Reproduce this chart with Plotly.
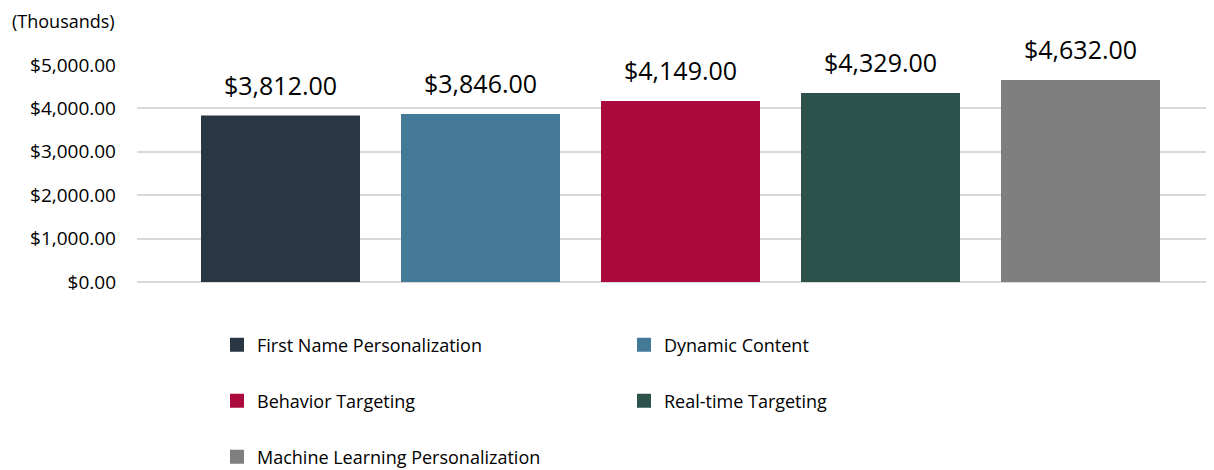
import plotly.graph_objects as go

categories = ["First Name Personalization", "Dynamic Content", "Behavior Targeting",
              "Real-time Targeting", "Machine Learning Personalization"]
values = [3812, 3846, 4149, 4329, 4632]
colors = ["#293643", "#447998", "#AA0A3C", "#2C524B", "#7F7F7F"]
legend_ids = ["legend", "legend", "legend2", "legend2", "legend3"]
y_ticks = [0, 1000, 2000, 3000, 4000, 5000]

# page has an 8px body margin; size the figure so the plot area lands where wanted
OFF = 8
PAGE_W, PAGE_H = 1214, 470
W, H = PAGE_W - OFF, PAGE_H - OFF
PL, PT, PB = 137, 65, 282  # plot area in page pixels (left, top, bottom)
L, T = PL - OFF, PT - OFF
B = H - (PB - OFF)
R = 0
pw, ph = W - L - R, H - T - B

def px_x(p):
    return (p - PL) / pw

def px_y(p):
    return (PB - p) / ph

def cx(p):
    return (p - OFF) / W

def cy(p):
    return (H - (p - OFF)) / H

FONT = "Open Sans, Noto Sans, sans-serif"

fig = go.Figure()
for c, v, col, lg in zip(categories, values, colors, legend_ids):
    fig.add_trace(go.Bar(x=[c], y=[v], name=c,
                         marker=dict(color=col, line=dict(width=2, color=col)),
                         width=0.785, legend=lg, hoverinfo="skip"))
    fig.add_annotation(x=c, y=v, text=f"${v:,.2f}", showarrow=False, yanchor="bottom",
                       yshift=13, font=dict(family=FONT, size=25, color="#000000"))

fig.add_annotation(xref="paper", yref="paper", x=px_x(11), y=px_y(21), xanchor="left",
                   yanchor="middle", text="(Thousands)", showarrow=False, borderpad=0,
                   font=dict(family=FONT, size=18, color="#000000"))

leg_common = dict(orientation="h", xanchor="left", yanchor="middle",
                  xref="container", yref="container", x=cx(217),
                  entrywidth=362, entrywidthmode="pixels", bgcolor="rgba(0,0,0,0)",
                  font=dict(family=FONT, size=18, color="#000000"), traceorder="normal")

fig.update_layout(
    width=W, height=H,
    margin=dict(l=L, r=R, t=T, b=B, pad=0, autoexpand=False),
    paper_bgcolor="#FFFFFF", plot_bgcolor="#FFFFFF",
    barmode="overlay",
    showlegend=True,
    legend=dict(y=cy(345), **leg_common),
    legend2=dict(y=cy(401), **leg_common),
    legend3=dict(y=cy(457), **leg_common),
    xaxis=dict(type="category", categoryorder="array", categoryarray=categories,
               range=[-0.7175, 4.6675], showticklabels=False, showgrid=False,
               zeroline=False, showline=False, ticks=""),
    yaxis=dict(range=[0, 5000], tickvals=y_ticks,
               ticktext=[f"${t:,.2f}" for t in y_ticks],
               showgrid=True, gridcolor="#D9D9D9", gridwidth=1.5,
               zeroline=True, zerolinecolor="#D9D9D9", zerolinewidth=1.5,
               showline=False, ticks="", ticklabelstandoff=20,
               tickfont=dict(family=FONT, size=19, color="#000000")),
)

fig.write_html("out.html")
